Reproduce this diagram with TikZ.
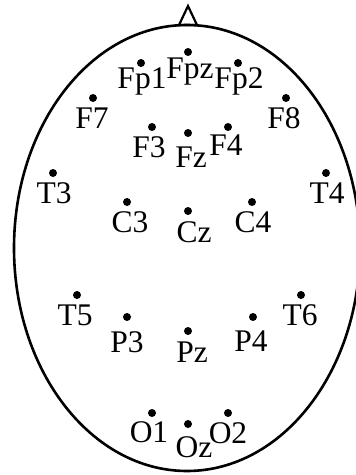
\documentclass[tikz,border=0pt]{standalone}
\usepackage{fontspec}
\setmainfont{Liberation Serif}
\begin{document}
\begin{tikzpicture}[x=1pt,y=-1pt,
  electrode/.style={circle,fill=black,draw=none,minimum size=8pt,inner sep=0pt},
  elabel/.style={anchor=base,inner sep=0pt,font=\fontsize{31.5}{31.5}\selectfont}]
\useasboundingbox (0,0) rectangle (356,475);
\begin{scope}
\clip (0,0) rectangle (356,475);
\draw[line width=2.6pt] (187,248) ellipse [x radius=173, y radius=223];
\draw[line width=2.2pt,line join=miter] (179,25) -- (188,6) -- (197,25) -- cycle;
\end{scope}
% electrodes
\foreach \n/\x/\y in {Fpz/188/52, Fp1/141/63, Fp2/238/63, F7/93/98, F8/286/98,
  F3/152/127, Fz/188/133, F4/228/127, T3/53/173, T4/326/173, C3/127/202,
  Cz/188/211, C4/252/202, T5/77/295, T6/301/295, P3/127/317, Pz/188/331,
  P4/253/317, O1/152/413, Oz/188/424, O2/228/413}
  \node[electrode] (\n) at (\x,\y) {};
% labels
\foreach \n/\x/\y in {Fp1/142/88, Fpz/190/78, Fp2/239/88, F7/92/128, F8/284/128,
  F3/149/157, Fz/191/167, F4/226/155, T3/54/203, T4/327/203, C3/130/232,
  Cz/194/242, C4/253/232, T5/75/325, T6/300/325, P3/127/352, Pz/192/362,
  P4/251/351, O1/149/442, Oz/194/457, O2/228/443}
  \node[elabel] (l\n) at (\x,\y) {\n};
\end{tikzpicture}
\end{document}
